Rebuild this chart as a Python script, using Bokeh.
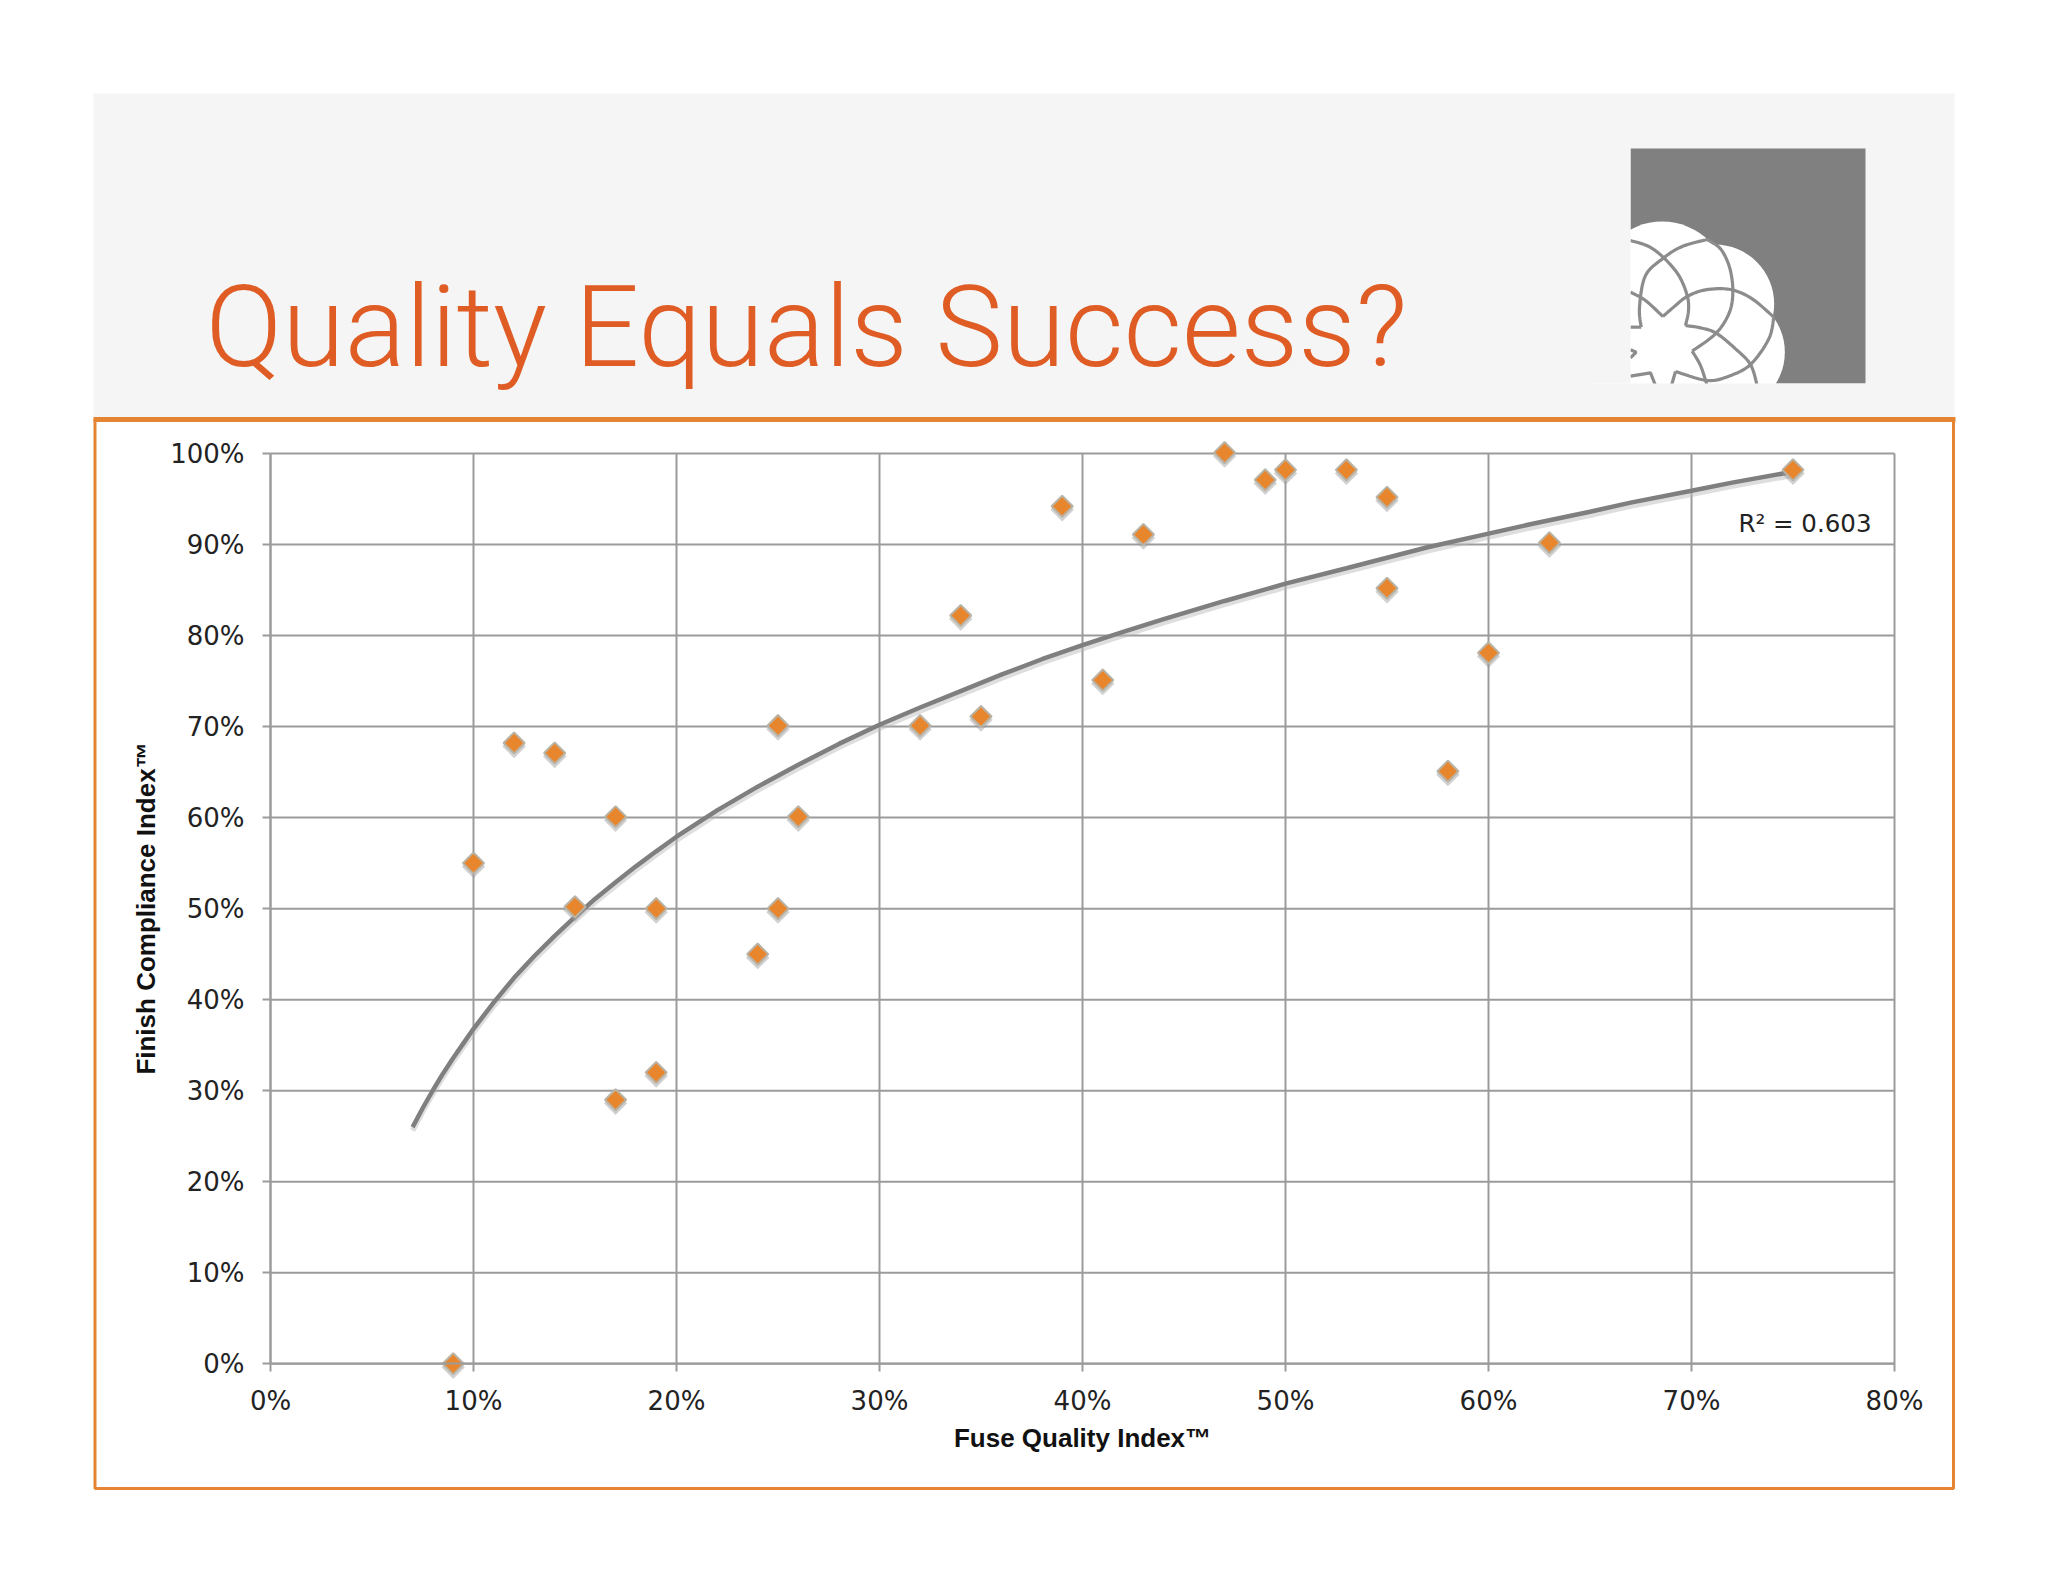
from bokeh.plotting import figure
from bokeh.models import Range1d, FixedTicker, Label
from bokeh.embed import file_html
from bokeh.resources import INLINE

title_text = "Quality Equals Success?"
x_axis_title = "Fuse Quality Index™"
y_axis_title = "Finish Compliance Index™"
r2_text = "R² = 0.603"

x_ticks = [0, 10, 20, 30, 40, 50, 60, 70, 80]
x_tick_labels = ["0%", "10%", "20%", "30%", "40%", "50%", "60%", "70%", "80%"]
y_ticks = [0, 10, 20, 30, 40, 50, 60, 70, 80, 90, 100]
y_tick_labels = ["0%", "10%", "20%", "30%", "40%", "50%", "60%", "70%", "80%", "90%", "100%"]

quality = [9, 10, 12, 14, 15, 17, 17, 19, 19, 24, 25, 25, 26, 32, 34, 35, 39, 41, 43, 47, 49, 50, 53, 55, 55, 58, 60, 63, 75]
finish = [0, 55, 68.2, 67.1, 50.2, 60.1, 29, 50, 32, 45, 70.1, 50, 60.1, 70.1, 82.2, 71.1, 94.2, 75.1, 91.1, 100.1, 97.1, 98.2, 98.2, 95.2, 85.2, 65.1, 78.1, 90.2, 98.2]

trend_x = [7, 7.5, 8, 8.5, 9, 9.5, 10, 11, 12, 13, 14, 15, 16, 17, 18, 19, 20, 22, 24, 26, 28, 30, 32, 34, 36, 38, 40, 42, 44, 47, 50, 53, 57, 60, 62, 65, 67, 70, 72, 75]
trend_y = [26.0, 28.1, 30.05, 31.9, 33.6, 35.2, 36.8, 39.7, 42.4, 44.8, 47.0, 49.1, 51.1, 52.9, 54.65, 56.3, 57.9, 60.8, 63.4, 65.8, 68.1, 70.2, 72.1, 73.9, 75.7, 77.4, 78.95, 80.4, 81.8, 83.8, 85.7, 87.4, 89.7, 91.2, 92.2, 93.6, 94.6, 95.9, 96.8, 98.0]

# page geometry (browser pixels)
W, H, M = 2048, 1582, 0
PX0, PX1, PY0, PY1 = 270.0, 1894.0, 1363.3, 453.0
xppu = (PX1 - PX0) / 80.0
yppu = (PY0 - PY1) / 100.0
x_start = -(PX0 - M) / xppu
x_end = 80 + (M + W - PX1) / xppu
y_start = -(M + H - PY0) / yppu
y_end = 100 + (PY1 - M) / yppu

p = figure(width=W, height=H, output_backend="svg", toolbar_location=None,
           x_range=Range1d(x_start, x_end), y_range=Range1d(y_start, y_end),
           min_border=0, outline_line_color=None, background_fill_color="white",
           border_fill_color="white")
p.grid.visible = False
p.extra_x_ranges = {"page": Range1d(M, M + W)}
p.extra_y_ranges = {"page": Range1d(M + H, M),
                    "shadow": Range1d(y_start + 3.5 / yppu, y_end + 3.5 / yppu)}
PG = dict(x_range_name="page", y_range_name="page")

HEADER = "#f5f5f6"
ORANGE_LINE = "#e58534"
GRID = "#9b9b9b"
LOGO_GRAY = "#808080"
LOGO_LINE = "#8c8c8c"

# header band
p.quad(left=[93], right=[1954], top=[93], bottom=[419], fill_color=HEADER, line_color=None, level="image", **PG)

# logo
LX, LY = 1625.0, 210.0
def lx(v): return LX + v / 3.0
def ly(v): return LY + v / 3.0

def smooth(pts, n=8):
    if len(pts) < 3:
        return [q[0] for q in pts], [q[1] for q in pts]
    P = [pts[0]] + list(pts) + [pts[-1]]
    xs, ys = [], []
    for i in range(1, len(P) - 2):
        for k in range(n):
            t = k / n
            a, b, c, d = P[i - 1], P[i], P[i + 1], P[i + 2]
            f = lambda u: 0.5 * (2 * b[u] + (c[u] - a[u]) * t + (2 * a[u] - 5 * b[u] + 4 * c[u] - d[u]) * t * t
                                 + (3 * b[u] - a[u] - 3 * c[u] + d[u]) * t ** 3)
            xs.append(f(0)); ys.append(f(1))
    xs.append(pts[-1][0]); ys.append(pts[-1][1])
    return xs, ys

p.quad(left=[1630], right=[1865], top=[148], bottom=[383], fill_color=LOGO_GRAY, line_color=None, level="image", **PG)
lobes = [(110, 233, 200), (268, 280, 178), (300, 425, 178), (110, 420, 230)]
p.circle(x=[lx(c[0]) for c in lobes], y=[ly(c[1]) for c in lobes], radius=[c[2] / 3.0 for c in lobes],
         fill_color="white", line_color=None, level="image", **PG)
strokes = [
    [(15, 90), (70, 108), (115, 142), (160, 195), (185, 255), (189, 300), (180, 345)],
    [(15, 350), (47, 350)],
    [(47, 350), (42, 290), (60, 195), (115, 142), (170, 108), (245, 87)],
    [(245, 87), (285, 115), (312, 170), (322, 240), (312, 305), (272, 368), (200, 422)],
    [(15, 245), (60, 270), (112, 318)],
    [(112, 318), (150, 285), (185, 258), (240, 238), (315, 237), (380, 265), (445, 320)],
    [(445, 320), (430, 385), (375, 462), (310, 497), (245, 510), (150, 483)],
    [(180, 345), (225, 352), (272, 368), (330, 415), (375, 462), (395, 525)],
    [(200, 422), (225, 465), (245, 525)],
    [(150, 483), (138, 525)],
    [(15, 418), (32, 425), (15, 442)],
    [(15, 497), (75, 487), (90, 525)],
]
sx, sy = [], []
for s in strokes:
    a, b = smooth(s) if s not in ([(15, 418), (32, 425), (15, 442)], [(15, 497), (75, 487), (90, 525)]) else zip(*s)
    sx.append([lx(v) for v in a]); sy.append([ly(v) for v in b])
p.multi_line(xs=sx, ys=sy, line_color=LOGO_LINE, line_width=3.2, level="image", **PG)
# trim the flower to the logo square
p.quad(left=[1560, 1560], right=[1630, 1870], top=[140, 383], bottom=[383, 430], fill_color=HEADER,
       line_color=None, level="image", **PG)
p.quad(left=[1500], right=[1954], top=[419], bottom=[440], fill_color="white", line_color=None, level="image", **PG)

# frame
p.quad(left=[94.5], right=[1953], top=[419], bottom=[1488], fill_color=None, line_color=ORANGE_LINE,
       line_width=3, level="image", **PG)
p.segment(x0=[93], x1=[1955], y0=[419], y1=[419], line_color=ORANGE_LINE, line_width=5, level="image", **PG)

title = Label(x=205, y=327, text=title_text, text_font="'Roboto Light', Roboto", text_font_size="113.5px",
              text_color="#df5c24", text_baseline="alphabetic", text_align="left",
              x_range_name="page", y_range_name="page")
p.add_layout(title)

# grid
p.segment(x0=x_ticks, x1=x_ticks, y0=[0] * len(x_ticks), y1=[100] * len(x_ticks), line_color=GRID, line_width=2, level="underlay")
p.segment(x0=[0] * len(y_ticks), x1=[80] * len(y_ticks), y0=y_ticks, y1=y_ticks, line_color=GRID, line_width=2, level="underlay")

# axes
xa, ya = p.xaxis[0], p.yaxis[0]
xa.fixed_location = 0
ya.fixed_location = 0
xa.bounds = (0, 80)
ya.bounds = (0, 100)
xa.ticker = FixedTicker(ticks=x_ticks)
ya.ticker = FixedTicker(ticks=y_ticks)
xa.major_label_overrides = dict(zip(x_ticks, x_tick_labels))
ya.major_label_overrides = dict(zip(y_ticks, y_tick_labels))
for ax in (xa, ya):
    ax.axis_line_color = GRID
    ax.axis_line_width = 2
    ax.major_tick_line_color = GRID
    ax.major_tick_line_width = 2
    ax.major_tick_out = 8
    ax.major_tick_in = 0
    ax.minor_tick_out = 0
    ax.minor_tick_in = 0
    ax.major_label_text_font = "DejaVu Sans"
    ax.major_label_text_font_size = "26px"
    ax.major_label_text_color = "#222222"
    ax.axis_label_text_font = "Liberation Sans"
    ax.axis_label_text_font_style = "bold"
    ax.axis_label_text_font_size = "26px"
    ax.axis_label_text_color = "#111111"
xa.major_label_standoff = 14
ya.major_label_standoff = 18
xa.axis_label = x_axis_title
ya.axis_label = y_axis_title
xa.axis_label_standoff = 4
ya.axis_label_standoff = 6

# trendline
p.line(trend_x, trend_y, line_color="#b5b5b5", line_alpha=0.45, line_width=5.5, y_range_name="shadow")
p.line(trend_x, trend_y, line_color="#7f7f7f", line_width=4.5)

# points
p.scatter(quality, finish, marker="square", angle=0.7854, size=16.5, fill_color="#9a9a9a", fill_alpha=0.45,
          line_color=None, y_range_name="shadow")
p.scatter(quality, finish, marker="square", angle=0.7854, size=15, fill_color="#e8862e",
          line_color="#b9b3a6", line_width=2)

p.add_layout(Label(x=1871, y=522.5, text=r2_text, text_font="DejaVu Sans", text_font_size="24.5px",
                   text_color="#222222", text_align="right", text_baseline="middle",
                   x_range_name="page", y_range_name="page"))

open("out.html", "w").write(file_html(p, INLINE))
